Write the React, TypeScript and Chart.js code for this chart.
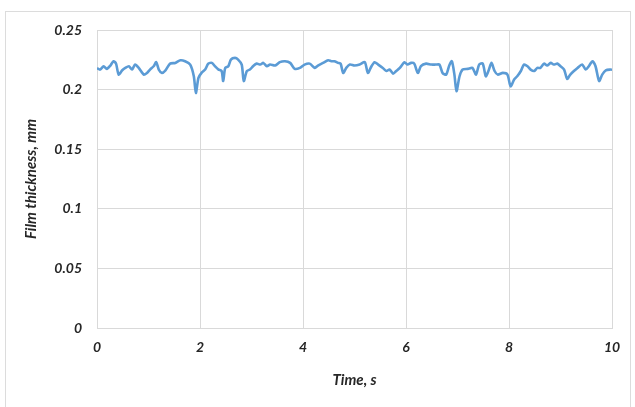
import React, { useEffect, useRef } from "react";
import { Chart, registerables } from "chart.js";

Chart.register(...registerables);

const timeValues = [
  0, 0.06, 0.13, 0.19, 0.26, 0.32, 0.37, 0.42, 0.49, 0.55,
  0.62, 0.68, 0.74, 0.81, 0.91, 0.97, 1.03, 1.1, 1.15, 1.2,
  1.26, 1.33, 1.42, 1.52, 1.62, 1.71, 1.81, 1.88, 1.92, 1.97,
  2.03, 2.1, 2.16, 2.23, 2.29, 2.36, 2.42, 2.45, 2.49, 2.55,
  2.6, 2.68, 2.74, 2.81, 2.85, 2.91, 2.97, 3.03, 3.1, 3.17,
  3.23, 3.3, 3.36, 3.46, 3.55, 3.65, 3.75, 3.84, 3.94, 4.03,
  4.13, 4.23, 4.29, 4.39, 4.49, 4.55, 4.61, 4.68, 4.73, 4.78,
  4.84, 4.91, 5.0, 5.1, 5.2, 5.26, 5.33, 5.39, 5.46, 5.55,
  5.62, 5.68, 5.75, 5.81, 5.88, 5.97, 6.03, 6.1, 6.16, 6.23,
  6.29, 6.39, 6.49, 6.58, 6.65, 6.71, 6.78, 6.84, 6.89, 6.94,
  6.98, 7.04, 7.1, 7.2, 7.29, 7.36, 7.42, 7.49, 7.55, 7.6,
  7.66, 7.72, 7.78, 7.88, 7.97, 8.03, 8.1, 8.16, 8.23, 8.29,
  8.36, 8.42, 8.49, 8.55, 8.61, 8.68, 8.74, 8.81, 8.87, 8.94,
  9.0, 9.07, 9.13, 9.19, 9.26, 9.33, 9.42, 9.49, 9.55, 9.62,
  9.68, 9.75, 9.81, 9.88, 9.97, 10.0,
];

const thicknessValues = [
  0.218, 0.2168, 0.2196, 0.2174, 0.2202, 0.2238, 0.2218, 0.2126, 0.2162, 0.2182,
  0.2196, 0.2168, 0.221, 0.2182, 0.2126, 0.214, 0.2168, 0.2196, 0.223, 0.2168,
  0.214, 0.2162, 0.2218, 0.2224, 0.2246, 0.2238, 0.221, 0.2112, 0.1972, 0.2098,
  0.214, 0.2168, 0.2218, 0.2224, 0.2196, 0.2168, 0.2156, 0.2072, 0.2182, 0.2196,
  0.2252, 0.2266, 0.2252, 0.221, 0.2072, 0.2156, 0.2168, 0.2196, 0.2218, 0.221,
  0.2224, 0.2196, 0.221, 0.2202, 0.223, 0.2238, 0.2224, 0.2174, 0.2182, 0.221,
  0.2218, 0.2182, 0.2202, 0.2224, 0.2246, 0.2238, 0.2238, 0.2224, 0.2218, 0.214,
  0.2182, 0.221, 0.2202, 0.221, 0.223, 0.214, 0.2196, 0.223, 0.221, 0.2182,
  0.2156, 0.2168, 0.2134, 0.2156, 0.2182, 0.223, 0.221, 0.2224, 0.2218, 0.214,
  0.2196, 0.2218, 0.221, 0.221, 0.221, 0.214, 0.2126, 0.2202, 0.2238, 0.2126,
  0.1986, 0.2112, 0.2168, 0.2174, 0.2182, 0.2126, 0.221, 0.2218, 0.2112, 0.2156,
  0.2224, 0.2156, 0.2126, 0.214, 0.2126, 0.2028, 0.2084, 0.2112, 0.2156, 0.221,
  0.2196, 0.2168, 0.2156, 0.2182, 0.2182, 0.2218, 0.2202, 0.2224, 0.221, 0.2218,
  0.2196, 0.2168, 0.209, 0.2126, 0.2156, 0.2182, 0.221, 0.2168, 0.2196, 0.2238,
  0.2196, 0.2072, 0.2126, 0.2162, 0.2168, 0.2166,
];

const xTickValues = [0, 2, 4, 6, 8, 10];
const yTickValues = [0, 0.05, 0.1, 0.15, 0.2, 0.25];
const yTickLabels = ["0", "0.05", "0.1", "0.15", "0.2", "0.25"];

const xTitle = "Time, s";
const yTitle = "Film thickness, mm";

const FONT = "Lato, 'Open Sans', sans-serif";

export default function App() {
  const canvasRef = useRef<HTMLCanvasElement | null>(null);

  useEffect(() => {
    const canvas = canvasRef.current;
    if (!canvas) return;
    const points = timeValues.map((t, i) => ({ x: t, y: thicknessValues[i] }));
    const tickFont = { family: FONT, size: 14, weight: "bold" as const, style: "italic" as const };
    const titleFont = { family: FONT, size: 15, weight: "bold" as const, style: "italic" as const };
    const chart = new Chart(canvas, {
      type: "line",
      data: {
        datasets: [
          {
            data: points,
            borderColor: "#5b9bd5",
            borderWidth: 2.6,
            pointRadius: 0,
            tension: 0.25,
            fill: false,
          },
        ],
      },
      options: {
        animation: false,
        responsive: false,
        maintainAspectRatio: false,
        layout: { padding: { left: 0, right: 23, top: 30, bottom: 0 } },
        plugins: { legend: { display: false }, tooltip: { enabled: false } },
        scales: {
          x: {
            type: "linear",
            min: 0,
            max: 10,
            afterBuildTicks: (scale: any) => {
              scale.ticks = xTickValues.map((v) => ({ value: v }));
            },
            afterFit: (scale: any) => {
              scale.height = 79;
            },
            grid: { color: "#d9d9d9", lineWidth: 1, drawTicks: false },
            border: { color: "#d9d9d9" },
            ticks: {
              padding: 11,
              color: "#262626",
              font: tickFont,
              maxRotation: 0,
            },
            title: {
              display: true,
              text: xTitle,
              color: "#262626",
              font: titleFont,
              padding: { top: 0, bottom: 18 },
            },
          },
          y: {
            type: "linear",
            min: 0,
            max: 0.25,
            afterBuildTicks: (scale: any) => {
              scale.ticks = yTickValues.map((v) => ({ value: v }));
            },
            afterFit: (scale: any) => {
              scale.width = 97;
            },
            grid: { color: "#d9d9d9", lineWidth: 1, drawTicks: false },
            border: { color: "#d9d9d9" },
            ticks: {
              padding: 15,
              color: "#262626",
              font: tickFont,
              callback: (value: any) => {
                const idx = yTickValues.findIndex((v) => Math.abs(v - Number(value)) < 1e-9);
                return idx >= 0 ? yTickLabels[idx] : "";
              },
            },
            title: {
              display: true,
              text: yTitle,
              color: "#262626",
              font: titleFont,
              padding: { top: 22, bottom: 0 },
            },
          },
        },
      },
    });
    return () => chart.destroy();
  }, []);

  return (
    <div style={{ position: "fixed", left: 0, top: 0, width: 635, height: 407, background: "#ffffff" }}>
      <div
        style={{
          position: "absolute",
          left: 5,
          top: 11,
          width: 626,
          height: 400,
          border: "1px solid #dcdcdc",
          boxSizing: "border-box",
        }}
      />
      <canvas
        ref={canvasRef}
        width={635}
        height={407}
        style={{ position: "absolute", left: 0, top: 0, width: 635, height: 407 }}
      />
    </div>
  );
}
